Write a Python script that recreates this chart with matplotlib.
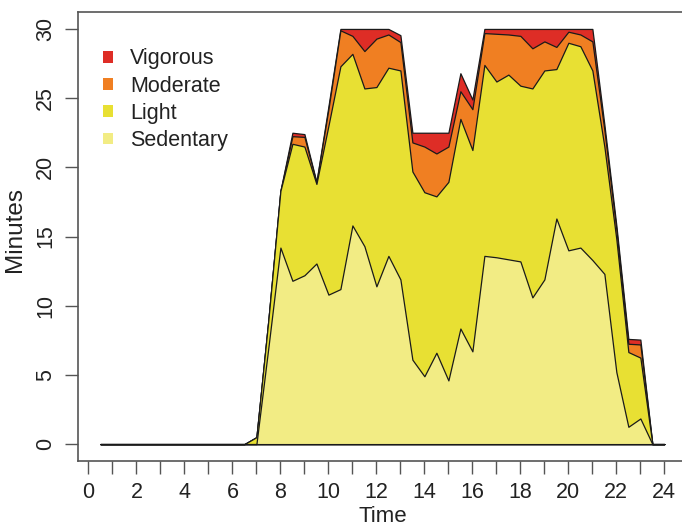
import numpy as np
import matplotlib
matplotlib.use("Agg")
import matplotlib.pyplot as plt
from matplotlib.patches import Patch

plt.rcParams['font.family'] = ['Liberation Sans', 'DejaVu Sans']

time = [0.5, 1.0, 1.5, 2.0, 2.5, 3.0, 3.5, 4.0, 4.5, 5.0, 5.5, 6.0, 6.5,
        7.0, 7.5, 8.0, 8.5, 9.0, 9.5, 10.0, 10.5, 11.0, 11.5, 12.0, 12.5,
        13.0, 13.5, 14.0, 14.5, 15.0, 15.5, 16.0, 16.5, 17.0, 17.5, 18.0,
        18.5, 19.0, 19.5, 20.0, 20.5, 21.0, 21.5, 22.0, 22.5, 23.0, 23.5, 24.0]

sedentary = [0, 0, 0, 0, 0, 0, 0, 0, 0, 0, 0, 0, 0,
             0.0, 7.0, 14.2, 11.8, 12.2, 13.05, 10.8, 11.2, 15.8, 14.3, 11.4, 13.6,
             11.9, 6.1, 4.9, 6.6, 4.6, 8.35, 6.7, 13.6, 13.5, 13.35, 13.2,
             10.6, 11.9, 16.3, 14.0, 14.2, 13.3, 12.3, 5.2, 1.25, 1.85, 0, 0]
light = [0, 0, 0, 0, 0, 0, 0, 0, 0, 0, 0, 0, 0,
         0.5, 2.0, 4.1, 9.9, 9.3, 5.75, 12.2, 16.1, 12.4, 11.4, 14.4, 13.6,
         15.1, 13.6, 13.3, 11.3, 14.35, 15.15, 14.55, 13.8, 12.7, 13.35, 12.7,
         15.1, 15.1, 10.8, 15.0, 14.55, 13.7, 9.2, 9.6, 5.4, 4.4, 0, 0]
moderate = [0, 0, 0, 0, 0, 0, 0, 0, 0, 0, 0, 0, 0,
            0, 0, 0.0, 0.55, 0.7, 0.1, 1.2, 2.6, 1.3, 2.7, 3.5, 2.4,
            2.05, 2.1, 3.3, 3.1, 2.55, 2.0, 2.95, 2.3, 3.45, 2.9, 3.6,
            2.9, 2.1, 1.6, 0.8, 0.85, 2.1, 1.2, 0.7, 0.6, 0.95, 0, 0]
vigorous = [0, 0, 0, 0, 0, 0, 0, 0, 0, 0, 0, 0, 0,
            0, 0, 0.0, 0.25, 0.2, 0.05, 0.2, 0.1, 0.5, 1.6, 0.7, 0.4,
            0.5, 0.7, 1.0, 1.5, 1.0, 1.3, 0.7, 0.3, 0.35, 0.4, 0.5,
            1.4, 0.9, 1.3, 0.2, 0.4, 0.9, 0.4, 0.3, 0.35, 0.35, 0, 0]

labels = ["Vigorous", "Moderate", "Light", "Sedentary"]
colors = ["#DE2D26", "#F07F22", "#E8E033", "#F2EC84"]

t = np.array(time)
s = np.array(sedentary)
l = np.array(light)
m = np.array(moderate)
v = np.array(vigorous)
cum = [s + l + m + v, s + l + m, s + l, s]

fig = plt.figure(figsize=(6.82, 5.25), dpi=100)
ax = fig.add_axes([0.1142, 0.1225, 0.893, 0.854])

for top, col in zip(cum, colors):
    ax.fill_between(t, 0, top, facecolor=col, edgecolor="#1a1a1a", linewidth=0.9)

ax.set_xlim(-0.44, 24.94)
ax.set_ylim(-1.2, 31.2)

ax.set_xticks(np.arange(0, 25, 1))
ax.set_xticklabels([str(i) if i % 2 == 0 else "" for i in range(25)])
ax.set_yticks([0, 5, 10, 15, 20, 25, 30])

for sp in ax.spines.values():
    sp.set_color("#555555")
    sp.set_linewidth(1.2)
ax.spines['right'].set_visible(False)

ax.tick_params(axis='both', direction='out', length=9.5, width=1.0, color="#555555",
               labelsize=15.5, labelcolor="#222222")
ax.tick_params(axis='x', pad=6)
ax.tick_params(axis='y', pad=6, labelrotation=90)
for lab in ax.get_yticklabels():
    lab.set_va('center')

ax.set_xlabel("Time", fontsize=16, color="#222222")
ax.set_ylabel("Minutes", fontsize=17.5, color="#222222")
ax.xaxis.set_label_coords(0.5, -0.1)
ax.yaxis.set_label_coords(-0.086, 0.515)

handles = [Patch(facecolor=c, edgecolor='none') for c in colors]
ax.legend(handles, labels, loc='upper left', bbox_to_anchor=(0.041, 0.9195),
          frameon=False, fontsize=15.5, handlelength=0.46, handleheight=0.46,
          handletextpad=0.8, labelspacing=0.29, borderpad=0, borderaxespad=0,
          labelcolor="#222222")

fig.savefig("out.png", dpi=100)
